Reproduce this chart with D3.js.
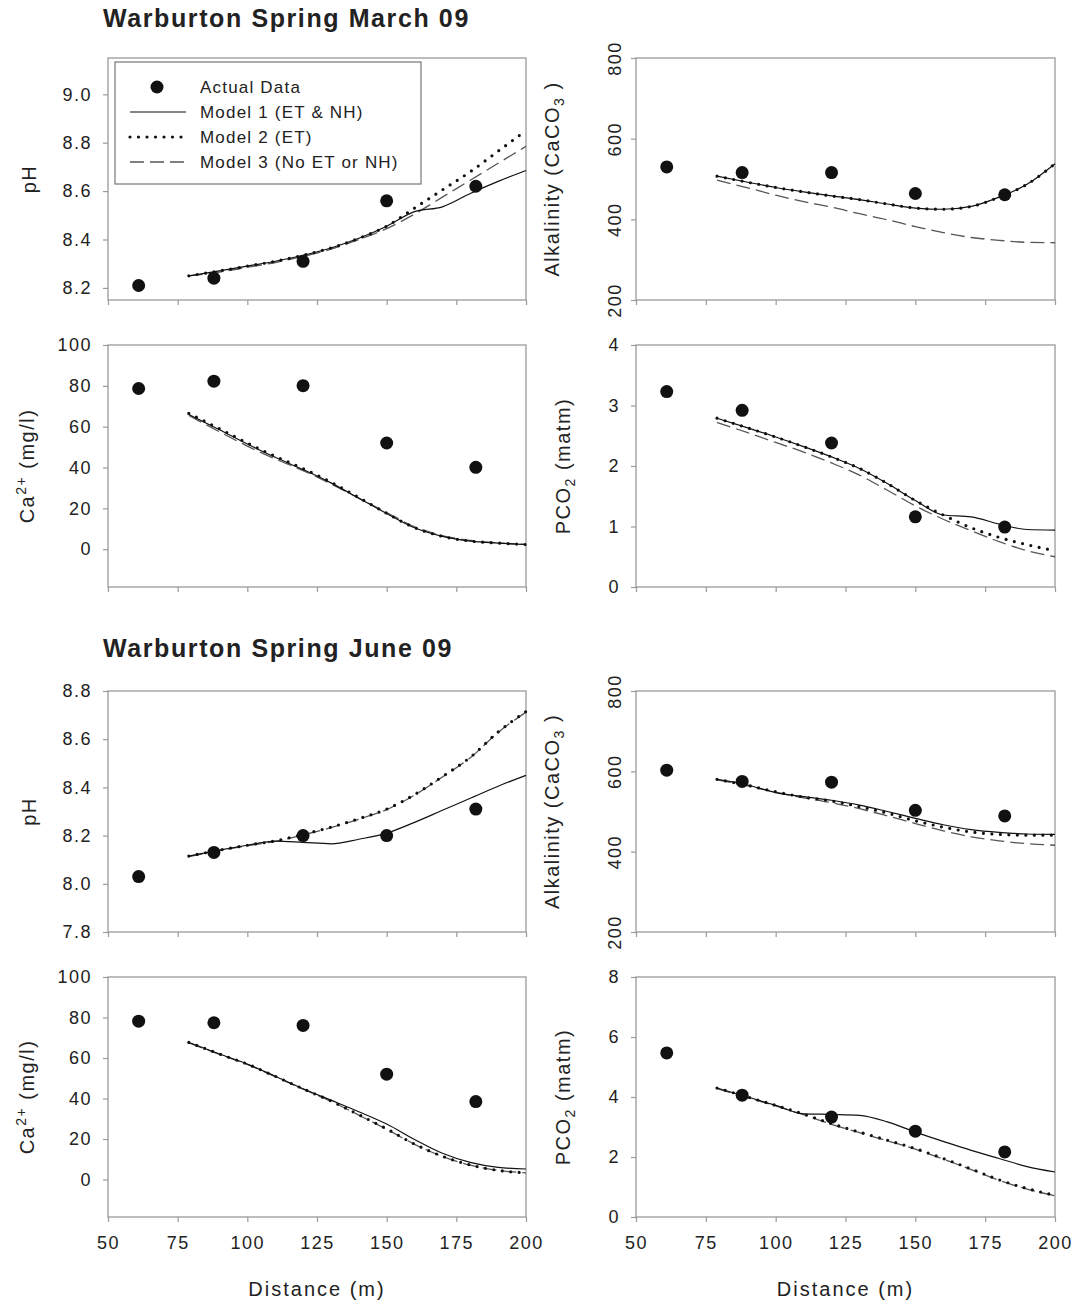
<!DOCTYPE html>
<html>
<head>
<meta charset="utf-8">
<script src="https://cdn.jsdelivr.net/npm/d3@7"></script>
<style>
  body { margin: 0; background: #fff; }
  text { font-family: "Liberation Sans", Arial, sans-serif; fill: #222; }
</style>
</head>
<body>
<svg id="chart" width="1085" height="1307"></svg>
<script>
// distances (m)
const distActual = [61, 88, 120, 150, 182];
const distModel = [79, 90, 100, 110, 120, 130, 140, 150, 160, 170, 180, 190, 200];
const distTicks = [50, 75, 100, 125, 150, 175, 200];

// March 09
const phMarActual = [8.21, 8.24, 8.31, 8.56, 8.62];
const phMarM1 = [8.25, 8.27, 8.29, 8.31, 8.335, 8.365, 8.405, 8.455, 8.515, 8.535, 8.59, 8.64, 8.685];
const phMarM2 = [8.25, 8.27, 8.29, 8.31, 8.335, 8.365, 8.405, 8.455, 8.53, 8.605, 8.68, 8.765, 8.85];
const phMarM3 = [8.25, 8.265, 8.285, 8.305, 8.33, 8.36, 8.40, 8.445, 8.505, 8.575, 8.645, 8.715, 8.785];

const alkMarActual = [530, 516, 516, 464, 461];
const alkMarM1 = [507, 492, 479, 468, 458, 449, 438, 428, 425, 432, 455, 487, 538];
const alkMarM2 = [507, 492, 479, 468, 458, 449, 438, 428, 425, 432, 455, 487, 538];
const alkMarM3 = [497, 478, 460, 444, 430, 414, 399, 382, 367, 355, 348, 343, 342];

const caMarActual = [78.7, 82.3, 80.1, 52, 40.1];
const caMarM1 = [66, 58.5, 51.5, 45, 39, 32.5, 25, 17.5, 10.5, 6.3, 4, 3, 2.3];
const caMarM2 = [66.5, 59, 52, 45.5, 39.5, 32.8, 25.3, 17.6, 10.6, 6.3, 4, 3, 2.3];
const caMarM3 = [65.5, 57.5, 50.5, 44.2, 38.5, 32, 25, 18, 11, 6.7, 4.3, 3.1, 2.4];

const pco2MarActual = [3.23, 2.92, 2.38, 1.16, 0.99];
const pco2MarM1 = [2.79, 2.63, 2.48, 2.32, 2.15, 1.96, 1.71, 1.43, 1.19, 1.16, 1.04, 0.95, 0.94];
const pco2MarM2 = [2.79, 2.63, 2.48, 2.32, 2.15, 1.96, 1.71, 1.43, 1.19, 0.98, 0.82, 0.70, 0.60];
const pco2MarM3 = [2.72, 2.55, 2.39, 2.23, 2.05, 1.85, 1.60, 1.34, 1.12, 0.93, 0.75, 0.60, 0.50];

// June 09
const phJunActual = [8.03, 8.13, 8.20, 8.20, 8.31];
const phJunM1 = [8.115, 8.14, 8.16, 8.177, 8.172, 8.166, 8.185, 8.21, 8.255, 8.305, 8.355, 8.405, 8.45];
const phJunM2 = [8.115, 8.14, 8.16, 8.178, 8.205, 8.235, 8.27, 8.31, 8.37, 8.445, 8.525, 8.63, 8.715];
const phJunM3 = [8.113, 8.138, 8.158, 8.176, 8.203, 8.233, 8.268, 8.308, 8.368, 8.443, 8.523, 8.628, 8.712];

const alkJunActual = [603, 575, 573, 503, 489];
const alkJunM1 = [580, 566, 547, 537, 528, 516, 500, 483, 467, 455, 448, 444, 443];
const alkJunM2 = [580, 565, 549, 536, 526, 512, 496, 477, 461, 449, 443, 441, 441];
const alkJunM3 = [579, 564, 548, 534, 522, 507, 489, 470, 452, 437, 427, 420, 416];

const caJunActual = [78.2, 77.4, 76.1, 52, 38.5];
const caJunM1 = [67.7, 62, 57, 51, 44.8, 39.2, 33.5, 27.4, 19.8, 13, 8.5, 6, 5.2];
const caJunM2 = [67.7, 62, 57, 51, 44.8, 38.8, 32, 25, 17.5, 11.5, 7.2, 4.5, 3.3];
const caJunM3 = [67.5, 61.8, 56.8, 50.8, 44.6, 38.6, 31.8, 24.8, 17.4, 11.4, 7.1, 4.5, 3.3];

const pco2JunActual = [5.47, 4.06, 3.33, 2.86, 2.17];
const pco2JunM1 = [4.3, 4.0, 3.72, 3.44, 3.42, 3.39, 3.17, 2.83, 2.52, 2.22, 1.95, 1.68, 1.5];
const pco2JunM2 = [4.3, 4.0, 3.72, 3.43, 3.11, 2.83, 2.56, 2.28, 1.95, 1.6, 1.24, 0.95, 0.72];
const pco2JunM3 = [4.28, 3.98, 3.70, 3.41, 3.09, 2.81, 2.54, 2.26, 1.93, 1.58, 1.22, 0.93, 0.71];

const legendLabels = ["Actual Data", "Model 1 (ET & NH)", "Model 2 (ET)", "Model 3 (No ET or NH)"];

const svg = d3.select('#chart');

const cols = [{ x0: 108, x1: 526 }, { x0: 636, x1: 1055 }];
const rows = [{ y0: 58, y1: 300 }, { y0: 345, y1: 587 }, { y0: 691, y1: 932 }, { y0: 977, y1: 1217 }];

const axisGrey = '#9a9a9a';

const lineStyles = [
  { stroke: '#111', width: 1.2, dash: null, cap: 'butt' },
  { stroke: '#111', width: 3.2, dash: '0,8.5', cap: 'round' },
  { stroke: '#555', width: 1.3, dash: '14,6', cap: 'butt' }
];

function addLabel(g, x, y, parts, opts) {
  // rotated y-axis label built from tspans (normal/sup/sub)
  const t = g.append('text')
    .attr('transform', `translate(${x},${y}) rotate(-90)`)
    .attr('text-anchor', 'middle')
    .style('font-size', '20px')
    .style('letter-spacing', (opts && opts.ls) || '1.5px');
  parts.forEach(p => {
    const ts = t.append('tspan').text(p.t);
    if (p.sup) ts.attr('dy', -8).style('font-size', '14px');
    if (p.sub) ts.attr('dy', 5).style('font-size', '14px');
    if (p.back) ts.attr('dy', p.back);
  });
}

function drawPanel(p) {
  const c = cols[p.col], r = rows[p.row];
  const x = d3.scaleLinear().domain([50, 200]).range([c.x0, c.x1]);
  const y = d3.scaleLinear().domain(p.yDomain).range([r.y1, r.y0]);
  const g = svg.append('g');

  // y axis
  const ya = g.append('g')
    .attr('transform', `translate(${c.x0},0)`)
    .call(d3.axisLeft(y).tickValues(p.yTicks).tickSize(5).tickPadding(11).tickFormat(p.yFormat));
  ya.select('.domain').remove();
  ya.selectAll('line').attr('stroke', axisGrey).attr('stroke-width', 1.2);
  ya.selectAll('text')
    .style('font-size', '18px').style('letter-spacing', '1.5px')
    .attr('fill', '#222');
  if (p.rotTicks) {
    ya.selectAll('text')
      .attr('transform', 'rotate(-90)')
      .attr('x', 0).attr('y', -15).attr('dy', 0)
      .attr('text-anchor', 'middle');
  }

  // x axis
  const xa = g.append('g')
    .attr('transform', `translate(0,${r.y1})`)
    .call(d3.axisBottom(x).tickValues(distTicks).tickSize(5).tickPadding(14)
      .tickFormat(p.row === 3 ? d3.format('d') : () => ''));
  xa.select('.domain').remove();
  xa.selectAll('line').attr('stroke', axisGrey).attr('stroke-width', 1.2);
  xa.selectAll('text').style('font-size', '18px').style('letter-spacing', '1.5px').attr('fill', '#222');

  // frame
  g.append('rect')
    .attr('x', c.x0).attr('y', r.y0)
    .attr('width', c.x1 - c.x0).attr('height', r.y1 - r.y0)
    .attr('fill', 'none').attr('stroke', axisGrey).attr('stroke-width', 1.3);

  const line = d3.line()
    .x((d, i) => x(distModel[i]))
    .y(d => y(d))
    .curve(d3.curveMonotoneX);

  // draw dashed first, then solid, then dotted on top
  [[p.m3, 2], [p.m1, 0], [p.m2, 1]].forEach(([vals, s]) => {
    const st = lineStyles[s];
    g.append('path')
      .datum(vals)
      .attr('d', line)
      .attr('fill', 'none')
      .attr('stroke', st.stroke)
      .attr('stroke-width', st.width)
      .attr('stroke-linecap', st.cap)
      .attr('stroke-dasharray', st.dash);
  });

  g.selectAll('circle.pt')
    .data(p.actual)
    .enter().append('circle')
    .attr('class', 'pt')
    .attr('cx', (d, i) => x(distActual[i]))
    .attr('cy', d => y(d))
    .attr('r', 6.5)
    .attr('fill', '#111');

  addLabel(g, p.labelX, (r.y0 + r.y1) / 2, p.label, p.labelOpts);
  if (p.row === 3) {
    g.append('text')
      .attr('x', (c.x0 + c.x1) / 2).attr('y', 1296)
      .attr('text-anchor', 'middle')
      .style('font-size', '20px').style('letter-spacing', '2px')
      .text('Distance (m)');
  }
  return { g, x, y };
}

const f1 = d3.format('.1f');
const f0 = d3.format('d');

const phLabel = [{ t: 'pH' }];
const caLabel = [{ t: 'Ca' }, { t: '2+', sup: true }, { t: ' (mg/l)', back: 8 }];
const alkLabel = [{ t: 'Alkalinity (CaCO' }, { t: '3', sub: true }, { t: ' )', back: -5 }];
const pcoLabel = [{ t: 'PCO' }, { t: '2', sub: true }, { t: ' (matm)', back: -5 }];

drawPanel({ col: 0, row: 0, yDomain: [8.15, 9.15], yTicks: [8.2, 8.4, 8.6, 8.8, 9.0], yFormat: f1,
  actual: phMarActual, m1: phMarM1, m2: phMarM2, m3: phMarM3, label: phLabel, labelX: 36 });
drawPanel({ col: 1, row: 0, yDomain: [200, 800], yTicks: [200, 400, 600, 800], yFormat: f0, rotTicks: true,
  actual: alkMarActual, m1: alkMarM1, m2: alkMarM2, m3: alkMarM3, label: alkLabel, labelX: 559 });
drawPanel({ col: 0, row: 1, yDomain: [-18.5, 100], yTicks: [0, 20, 40, 60, 80, 100], yFormat: f0,
  actual: caMarActual, m1: caMarM1, m2: caMarM2, m3: caMarM3, label: caLabel, labelX: 34 });
drawPanel({ col: 1, row: 1, yDomain: [0, 4], yTicks: [0, 1, 2, 3, 4], yFormat: f0,
  actual: pco2MarActual, m1: pco2MarM1, m2: pco2MarM2, m3: pco2MarM3, label: pcoLabel, labelX: 570 });

drawPanel({ col: 0, row: 2, yDomain: [7.8, 8.8], yTicks: [7.8, 8.0, 8.2, 8.4, 8.6, 8.8], yFormat: f1,
  actual: phJunActual, m1: phJunM1, m2: phJunM2, m3: phJunM3, label: phLabel, labelX: 36 });
drawPanel({ col: 1, row: 2, yDomain: [200, 800], yTicks: [200, 400, 600, 800], yFormat: f0, rotTicks: true,
  actual: alkJunActual, m1: alkJunM1, m2: alkJunM2, m3: alkJunM3, label: alkLabel, labelX: 559 });
drawPanel({ col: 0, row: 3, yDomain: [-18.5, 100], yTicks: [0, 20, 40, 60, 80, 100], yFormat: f0,
  actual: caJunActual, m1: caJunM1, m2: caJunM2, m3: caJunM3, label: caLabel, labelX: 34 });
drawPanel({ col: 1, row: 3, yDomain: [0, 8], yTicks: [0, 2, 4, 6, 8], yFormat: f0,
  actual: pco2JunActual, m1: pco2JunM1, m2: pco2JunM2, m3: pco2JunM3, label: pcoLabel, labelX: 570 });

// titles
svg.append('text').attr('x', 103).attr('y', 27)
  .style('font-size', '25px').style('font-weight', 'bold').style('letter-spacing', '1.6px')
  .text('Warburton Spring March 09');
svg.append('text').attr('x', 103).attr('y', 657)
  .style('font-size', '25px').style('font-weight', 'bold').style('letter-spacing', '1.6px')
  .text('Warburton Spring June 09');

// legend in first panel
const lg = svg.append('g').attr('class', 'legend');
lg.append('rect').attr('x', 115).attr('y', 62).attr('width', 306).attr('height', 122)
  .attr('fill', '#fff').attr('stroke', '#777').attr('stroke-width', 1.2);
const rowY = d3.scalePoint().domain(legendLabels).range([87, 162]);
legendLabels.forEach((lab, i) => {
  const yy = rowY(lab);
  if (i === 0) {
    lg.append('circle').attr('cx', 157).attr('cy', yy).attr('r', 6.5).attr('fill', '#111');
  } else {
    const st = lineStyles[i - 1];
    lg.append('line').attr('x1', 130).attr('x2', 186).attr('y1', yy).attr('y2', yy)
      .attr('stroke', st.stroke).attr('stroke-width', st.width)
      .attr('stroke-linecap', st.cap).attr('stroke-dasharray', st.dash);
  }
  lg.append('text').attr('x', 200).attr('y', yy).attr('dy', '0.36em')
    .style('font-size', '17px').style('letter-spacing', '1.2px')
    .text(lab);
});
</script>
</body>
</html>
